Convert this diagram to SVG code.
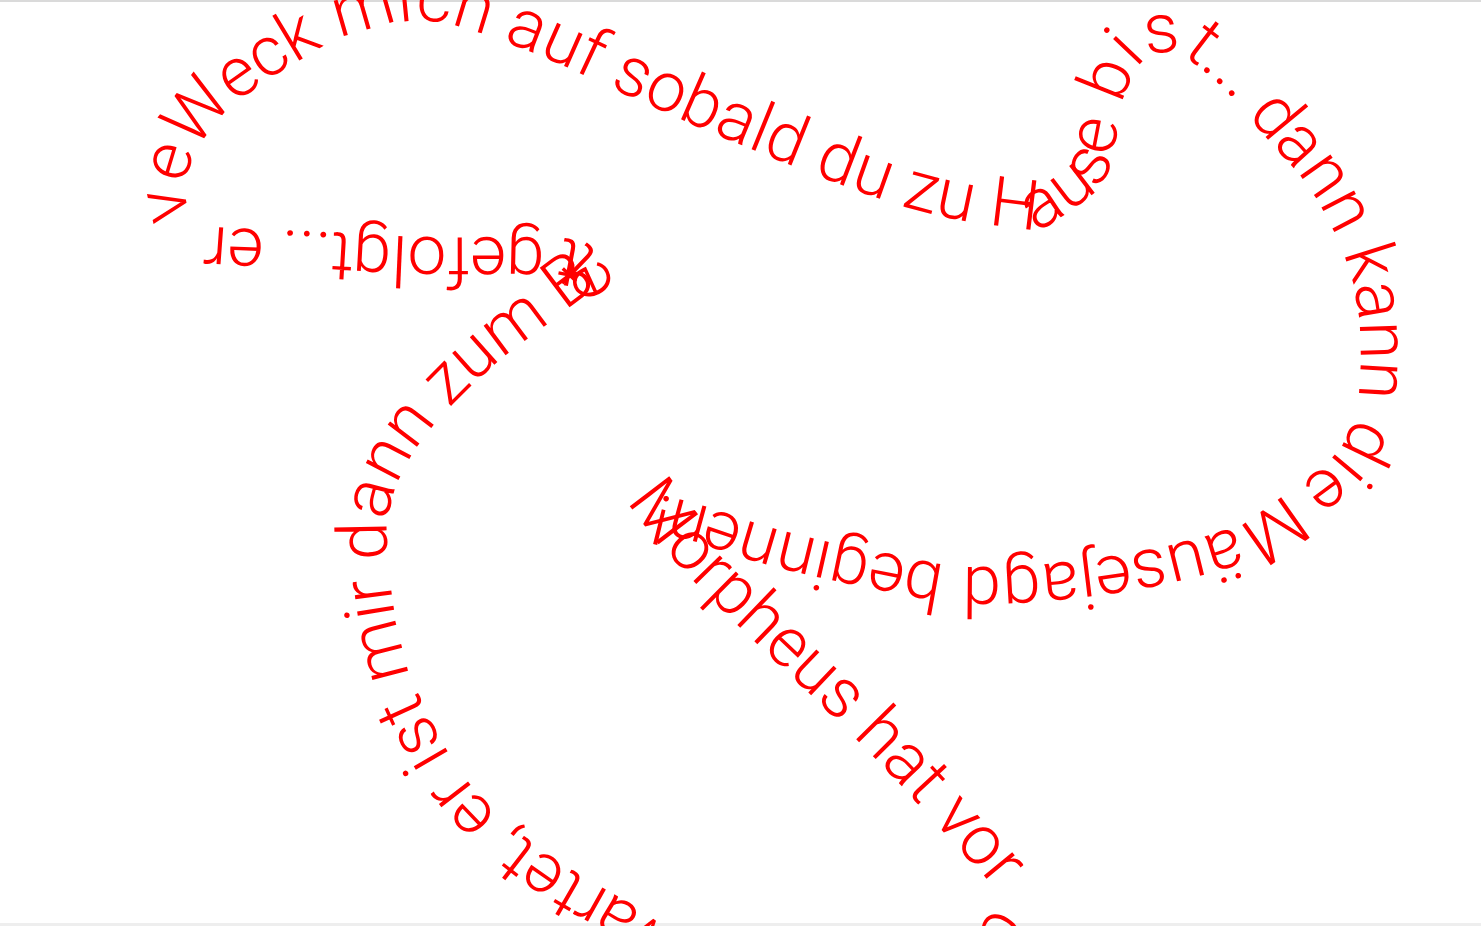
<svg xmlns="http://www.w3.org/2000/svg" xmlns:xlink="http://www.w3.org/1999/xlink" width="1481" height="926" viewBox="0 0 1481 926">
<style>
.t{font-family:Roboto,"Liberation Sans",sans-serif;font-size:69.6px;font-weight:300;fill:#ff0000;}
</style>
<defs>
<path id="p1" d="M 628,500 C 655,555 790,672 857,740 C 910,793 950,840 980,872 C 990,882 996,890 998,900 L 960,960 L 930,1010"/>
<path id="p2" d="M 760,1000 C 741,986 680.5,937.7 646,914 C 611.5,890.3 580,877 553,858 C 526,839 502.8,820 484,800 C 465.2,780 453.3,762.2 440,738 C 426.7,713.8 412.7,684.7 404,655 C 395.3,625.3 390,585.8 388,560 C 386,534.2 386.2,520.2 392,500 C 397.8,479.8 407.5,460.2 423,439 C 438.5,417.8 462.7,393.3 485,373 C 507.3,352.7 537.5,332.2 557,317 C 580,299 600,285 610,276 C 604,262 596,250 588,245 C 575,238 560,238 540,238 C 513.3,236.2 459.2,238.2 420,237 C 380.8,235.8 334.2,232.3 305,231 C 275.8,229.7 262.5,229.8 245,229 C 227.5,228.2 207.5,226.5 200,226 C 197.7,221.7 187.7,211 186,200 C 184.5,188 187,168 195,154 C 203,140 214,124 226,112 C 238,100 249,93 262,84 C 275,75 285,68 300,60 C 315.3,51.2 330.3,40.5 352,34 C 373.7,27.5 401,18.3 430,21 C 459,23.7 492.5,37.3 526,50 C 559.5,62.7 596.3,81.7 631,97 C 665.7,112.3 693.8,125.5 734,142 C 774.2,158.5 835.2,183.2 872,196 C 908.8,208.8 927,213.2 955,219 C 983,224.8 1025.8,229 1040,231 C 1048.3,225.2 1078.5,206.2 1090,196 C 1101.5,185.8 1104.7,179.7 1109,170 C 1113.3,160.3 1113.7,149.7 1116,138 C 1118.3,126.3 1118.7,112.7 1123,100 C 1127.3,87.3 1133.7,70 1142,62 C 1150.3,54 1163.3,51 1173,52 C 1182.7,53 1190.5,60.8 1200,68 C 1209.5,75.2 1219.3,83.8 1230,95 C 1240.7,106.2 1250.5,119 1264,135 C 1277.5,151 1297.5,170.5 1311,191 C 1324.5,211.5 1337,236.5 1345,258 C 1353,279.5 1356.8,298.8 1359,320 C 1361.2,341.2 1361,365 1359,390 C 1357,415 1350,432 1340,447 C 1330,462 1318,472 1300,483 C 1282,494 1259,517 1234,527 C 1208.8,536.2 1162,548.3 1120,555 C 1078,561.7 1021.5,567.3 982,567 C 942.5,566.7 916.7,559.2 883,553 C 849.3,546.8 810.5,538 780,530 C 749.5,522 723.3,511.7 700,505 C 676.7,498.3 650,492.5 600,480"/>
</defs>
<g id="frame">
<rect x="0" y="0" width="1481" height="2" fill="#dadada"/>
<rect x="0" y="923" width="1481" height="3" fill="#eeeeee"/>
</g>
<g id="text-1">
<text class="t"><textPath xlink:href="#p1" href="#p1">Morpheus hat vor der Tür</textPath></text>
</g>
<g id="text-2">
<text class="t"><textPath xlink:href="#p2" href="#p2" startOffset="20">gewartet, er ist mir dann zum Bett gefolgt... er veWeck mich auf sobald du zu Hause bist... dann kann die Mäusejagd beginnen!</textPath></text>
</g>
</svg>
